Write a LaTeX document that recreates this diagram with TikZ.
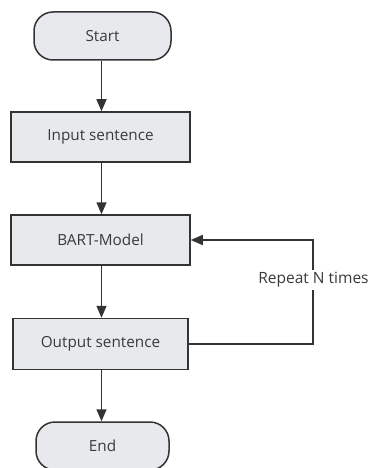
\documentclass[tikz,border=0pt]{standalone}
\usepackage{fontspec}
\setmainfont{Open Sans}
\usetikzlibrary{arrows.meta}
\definecolor{linec}{HTML}{333333}
\definecolor{boxfill}{HTML}{E7E9ED}
\definecolor{textc}{HTML}{3A3A3A}
\begin{document}
\begin{tikzpicture}[x=1pt,y=-1pt,
  box/.style={draw=linec, fill=boxfill, line width=1.5pt, minimum width=179pt, minimum height=50pt,
    font=\fontsize{15.3}{18}\selectfont, text=textc, inner sep=0pt},
  term/.style={box, rounded corners=19pt, minimum width=137pt, minimum height=48pt},
  arr/.style={-{Triangle[length=12pt,width=10pt]}, line width=1.5pt, draw=linec},
  lbl/.style={fill=white, font=\fontsize{15.5}{18}\selectfont, text=textc, inner sep=2pt}]
\useasboundingbox (0,0) rectangle (371,468);
\node[term] (start) at (102.5,36) {Start};
\node[box] (in) at (100.5,137) {Input sentence};
\node[box] (bart) at (100.5,240) {BART-Model};
\node[box, minimum width=175pt, minimum height=51pt] (out) at (100.5,344) {Output sentence};
\node[term, minimum width=133pt] (end) at (102.5,446) {End};
\coordinate (c1) at (313,344);
\coordinate (c2) at (313,240);
\draw[arr] (start.south -| 101.5,0) -- (in.north -| 101.5,0);
\draw[arr] (in.south -| 101.5,0) -- (bart.north -| 101.5,0);
\draw[arr] (bart.south -| 101.5,0) -- (out.north -| 101.5,0);
\draw[arr] (out.south -| 101.5,0) -- (end.north -| 101.5,0);
\draw[arr] (out.east) -- (c1) -- (c2) -- (bart.east);
\node[lbl] (rep) at (313.5,280) {Repeat N times};
\end{tikzpicture}
\end{document}
